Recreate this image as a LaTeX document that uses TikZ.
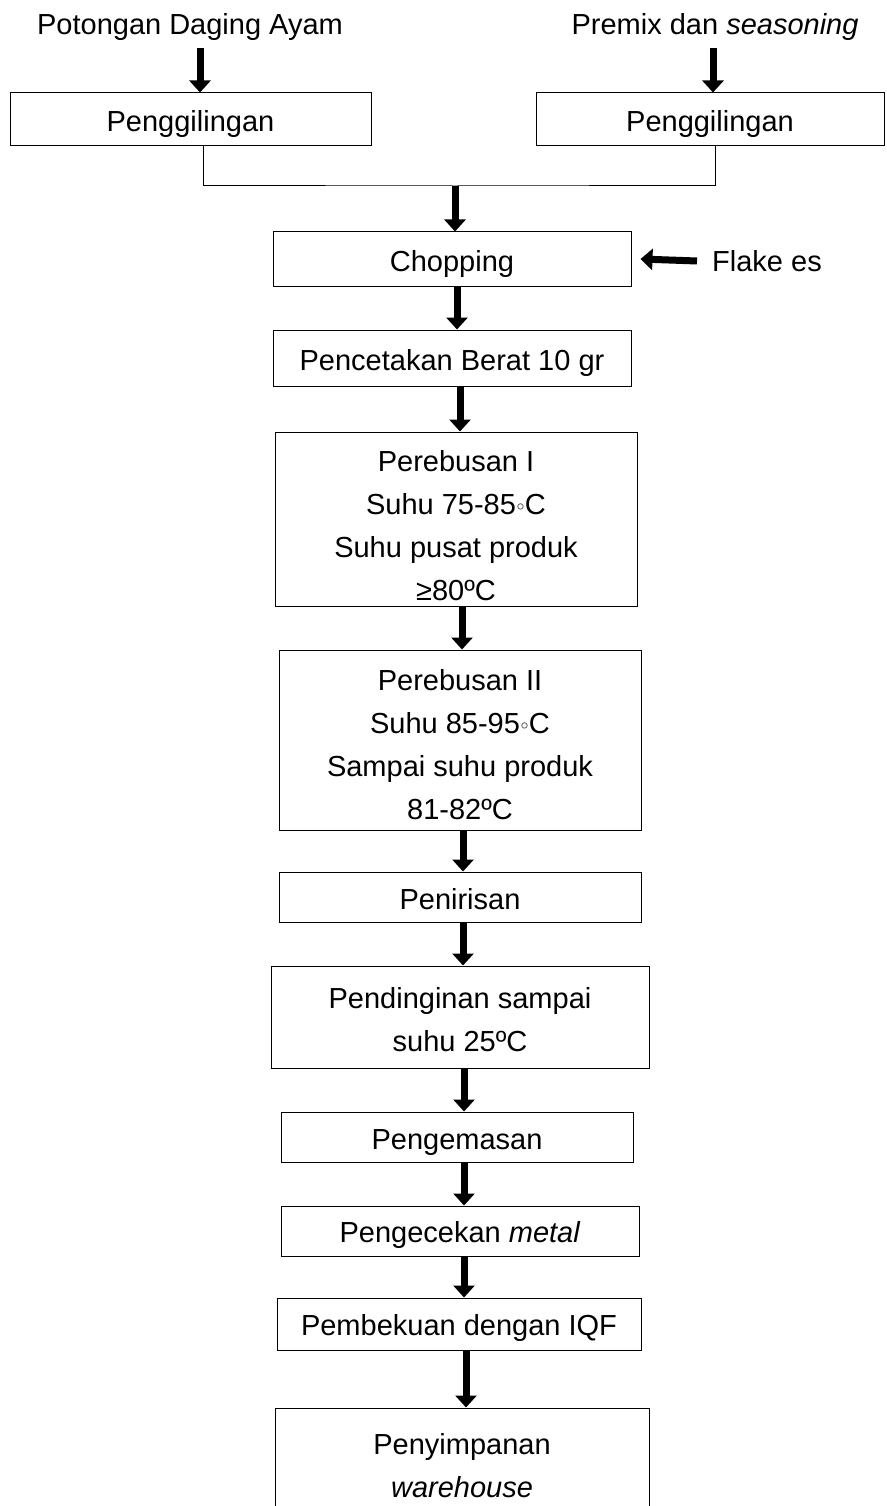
\documentclass[tikz,border=0pt]{standalone}
\usepackage{fontspec}
\setmainfont{Liberation Sans}
\newfontfamily\simbol{DejaVu Sans}
\usetikzlibrary{arrows.meta, positioning}

\tikzset{
    proses/.style={draw, line width=1pt, align=center, inner sep=0pt},
    panah/.style={line width=7pt, -{Triangle[width=21pt, length=12pt]}},
}
\newcommand{\derajat}{\kern-1.5pt{\simbol\scalebox{0.7}{◦}}\kern-1.5pt}
\newcommand{\atas}[1][31pt]{\rule{0pt}{#1}}

\begin{document}
\begin{tikzpicture}[x=1pt, y=-1pt, font=\fontsize{29pt}{43pt}\selectfont]
    \path[use as bounding box, clip] (0,0) rectangle (886,1506);

    % bahan awal
    \node (Ayam)    at (190,22) {\atas Potongan Daging Ayam};
    \node (Premix)  at (715,22) {\atas Premix dan \textit{seasoning}};

    \node[proses, minimum width=361pt, minimum height=53pt] (Giling 1) at (190.5,119.5) {\atas Penggilingan};
    \node[proses, minimum width=348pt, minimum height=53pt] (Giling 2) at (710,119.5)   {\atas Penggilingan};

    % alur utama
    \node[proses, minimum width=358pt, minimum height=54pt]  (Chopping) at (452,259)  {\atas Chopping};
    \node[proses, minimum width=358pt, minimum height=56pt]  (Cetak)    at (452,358)  {\atas Pencetakan Berat 10 gr};
    \node[proses, minimum width=362pt, minimum height=174pt] (Rebus 1)  at (456,519)  {\atas[34pt]Perebusan I\\Suhu 75-85\derajat C\\Suhu pusat produk\\≥80ºC};
    \node[proses, minimum width=362pt, minimum height=180pt] (Rebus 2)  at (460,740)  {\atas Perebusan II\\Suhu 85-95\derajat C\\Sampai suhu produk\\81-82ºC};
    \node[proses, minimum width=362pt, minimum height=50pt]  (Tiris)    at (460,897)  {\atas[26pt]Penirisan};
    \node[proses, minimum width=378pt, minimum height=102pt] (Dingin)   at (460,1017) {\atas[27pt]Pendinginan sampai\\suhu 25ºC};
    \node[proses, minimum width=352pt, minimum height=50pt]  (Kemas)    at (457,1137) {\atas Pengemasan};
    \node[proses, minimum width=358pt, minimum height=50pt]  (Cek)      at (460,1231) {\atas[29pt]Pengecekan \textit{metal}};
    \node[proses, minimum width=364pt, minimum height=52pt]  (Beku)     at (459,1324) {\atas[29pt]Pembekuan dengan IQF};
    \node[proses, minimum width=374pt, minimum height=114pt] (Simpan)   at (462,1465) {\atas[23pt]Penyimpanan\\\textit{warehouse}};

    \node[anchor=west, inner sep=0pt] (Flake) at (712,261) {Flake es};

    % panah
    \draw[panah] ([xshift=10pt, yshift=-4pt]Ayam.south)  -- ([xshift=10pt]Ayam.south |- Giling 1.north);
    \draw[panah] ([xshift=-2pt, yshift=-4pt]Premix.south) -- ([xshift=-2pt]Premix.south |- Giling 2.north);

    \coordinate (Gabung) at (455,186);
    \draw[line width=1pt] ([xshift=12.5pt]Giling 1.south) |- (Gabung) -| ([xshift=5pt]Giling 2.south);
    \draw[panah] (Gabung) -- (Gabung |- Chopping.north);

    \draw[panah] ([xshift=-15pt]Flake.west) -- ([xshift=9pt]Chopping.east);

    \foreach \a/\b/\dx in {Chopping/Cetak/5, Cetak/Rebus 1/8, Rebus 1/Rebus 2/6, Rebus 2/Tiris/3,
                           Tiris/Dingin/3, Dingin/Kemas/4, Kemas/Cek/7, Cek/Beku/4, Beku/Simpan/7}
        \draw[panah] ([xshift=\dx pt]\a.south) -- ([xshift=\dx pt]\a.south |- \b.north);
\end{tikzpicture}
\end{document}
